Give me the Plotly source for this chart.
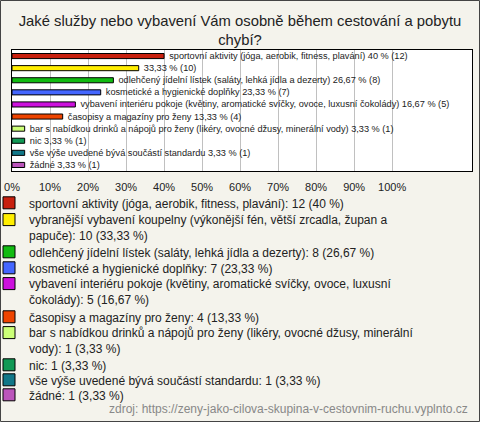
import plotly.graph_objects as go

title_text = "Jaké služby nebo vybavení Vám osobně během cestování a pobytu<br>chybí?"
categories = [
    "sportovní aktivity (jóga, aerobik, fitness, plavání)",
    "vybranější vybavení koupelny (výkonější fén, větší zrcadla, župan a papuče)",
    "odlehčený jídelní lístek (saláty, lehká jídla a dezerty)",
    "kosmetické a hygienické doplňky",
    "vybavení interiéru pokoje (květiny, aromatické svíčky, ovoce, luxusní čokolády)",
    "časopisy a magazíny pro ženy",
    "bar s nabídkou drinků a nápojů pro ženy (likéry, ovocné džusy, minerální vody)",
    "nic",
    "vše výše uvedené bývá součástí standardu",
    "žádné",
]
legend_names = [
    "sportovní aktivity (jóga, aerobik, fitness, plavání): 12 (40 %)",
    "vybranější vybavení koupelny (výkonější fén, větší zrcadla, župan a<br>papuče): 10 (33,33 %)",
    "odlehčený jídelní lístek (saláty, lehká jídla a dezerty): 8 (26,67 %)",
    "kosmetické a hygienické doplňky: 7 (23,33 %)",
    "vybavení interiéru pokoje (květiny, aromatické svíčky, ovoce, luxusní<br>čokolády): 5 (16,67 %)",
    "časopisy a magazíny pro ženy: 4 (13,33 %)",
    "bar s nabídkou drinků a nápojů pro ženy (likéry, ovocné džusy, minerální<br>vody): 1 (3,33 %)",
    "nic: 1 (3,33 %)",
    "vše výše uvedené bývá součástí standardu: 1 (3,33 %)",
    "žádné: 1 (3,33 %)",
]
bar_label_names = [
    "sportovní aktivity (jóga, aerobik, fitness, plavání) ",
    "",
    "odlehčený jídelní lístek (saláty, lehká jídla a dezerty) ",
    "kosmetické a hygienické doplňky ",
    "vybavení interiéru pokoje (květiny, aromatické svíčky, ovoce, luxusní čokolády) ",
    "časopisy a magazíny pro ženy ",
    "bar s nabídkou drinků a nápojů pro ženy (likéry, ovocné džusy, minerální vody) ",
    "nic ",
    "vše výše uvedené bývá součástí standardu ",
    "žádné ",
]
counts = [12, 10, 8, 7, 5, 4, 1, 1, 1, 1]
percents = [40, 33.33, 26.67, 23.33, 16.67, 13.33, 3.33, 3.33, 3.33, 3.33]
percent_labels = ["40 %", "33,33 %", "26,67 %", "23,33 %", "16,67 %", "13,33 %",
                  "3,33 %", "3,33 %", "3,33 %", "3,33 %"]
colors = ["#c8200e", "#ffee00", "#11bb11", "#4466ff", "#cc11dd",
          "#ee4400", "#ccff77", "#119955", "#117788", "#bb55bb"]
tick_vals = [0, 10, 20, 30, 40, 50, 60, 70, 80, 90, 100]
tick_text = ["0%", "10%", "20%", "30%", "40%", "50%", "60%", "70%", "80%", "90%", "100%"]
source_text = "zdroj: https://zeny-jako-cilova-skupina-v-cestovnim-ruchu.vyplnto.cz"

FONT = "Liberation Sans, Arial, sans-serif"
W, H = 480, 422
ML, MR, MT, MB = 12, 8, 50, 251
PW, PH = W - ML - MR, H - MT - MB
NB = "\u00a0"
LEG_FONT = 12
LEG_LH = 1.3 * LEG_FONT
# pixel row (from top) of the first text line of each legend entry
legend_rows = [203, 220, 252, 268, 284, 317, 333, 365, 380, 395]

fig = go.Figure()
for i, cat in enumerate(categories):
    fig.add_trace(go.Bar(
        x=[percents[i]], y=[cat], orientation="h",
        name=legend_names[i],
        legend="legend" if i == 0 else f"legend{i + 1}",
        marker=dict(color=colors[i], line=dict(color="#000000", width=1)),
        width=0.42,
        text=[f"{NB}{NB}{bar_label_names[i]}{percent_labels[i]} ({counts[i]})"],
        textposition="outside",
        textfont=dict(size=9.2, color="#222222", family=FONT),
        constraintext="none",
        cliponaxis=False,
        hoverinfo="skip",
    ))

legend_layouts = {}
for i, name in enumerate(legend_names):
    lines = name.count("<br>") + 1
    ypix = legend_rows[i] + (lines - 1) * LEG_LH / 2
    key = "legend" if i == 0 else f"legend{i + 1}"
    legend_layouts[key] = dict(
        xref="paper", yref="paper",
        x=-(ML + 11) / PW, xanchor="left",
        y=-(ypix - (MT + PH)) / PH, yanchor="middle",
        valign="top", bgcolor="rgba(0,0,0,0)",
        font=dict(size=LEG_FONT, family=FONT, color="#222222"),
        itemclick=False, itemdoubleclick=False,
    )

fig.update_layout(
    width=W, height=H,
    margin=dict(l=ML, r=MR, t=MT, b=MB, autoexpand=False),
    paper_bgcolor="#f4f3ec",
    plot_bgcolor="#ffffff",
    font=dict(family=FONT, color="#222222"),
    barmode="overlay",
    showlegend=True,
    title=dict(text=title_text, x=0.5, xanchor="center", xref="container",
               y=1 - 26 / H, yanchor="middle", yref="container",
               font=dict(size=14.8, family=FONT, color="#222222")),
    xaxis=dict(
        range=[0, 121], tickvals=tick_vals, ticktext=tick_text,
        showgrid=True, gridcolor="#c0c0c0", gridwidth=1,
        showline=True, linecolor="#000000", linewidth=1, mirror=True,
        ticks="", ticklabelstandoff=6, zeroline=False,
        tickfont=dict(size=11, family=FONT, color="#222222"),
        fixedrange=True,
    ),
    yaxis=dict(
        categoryorder="array", categoryarray=categories,
        autorange="reversed", showticklabels=False, showgrid=False,
        showline=True, linecolor="#000000", linewidth=1, mirror=True,
        ticks="", zeroline=False, fixedrange=True,
    ),
    annotations=[dict(
        text=source_text, xref="paper", yref="paper",
        x=1 - 2 / PW, xanchor="right", y=-(409 - (MT + PH)) / PH, yanchor="middle",
        showarrow=False, font=dict(size=12, family=FONT, color="#888888"),
    )],
    shapes=[dict(
        type="rect", xref="paper", yref="paper",
        x0=-(ML - 0.5) / PW, x1=1 + (MR - 0.5) / PW,
        y0=-(MB - 0.5) / PH, y1=1 + (MT - 0.5) / PH,
        line=dict(color="#444444", width=1), fillcolor="rgba(0,0,0,0)", layer="above",
    )],
    **legend_layouts,
)

fig.write_html("out.html", config={"displayModeBar": False},
               post_script="document.body.style.margin='0';")
